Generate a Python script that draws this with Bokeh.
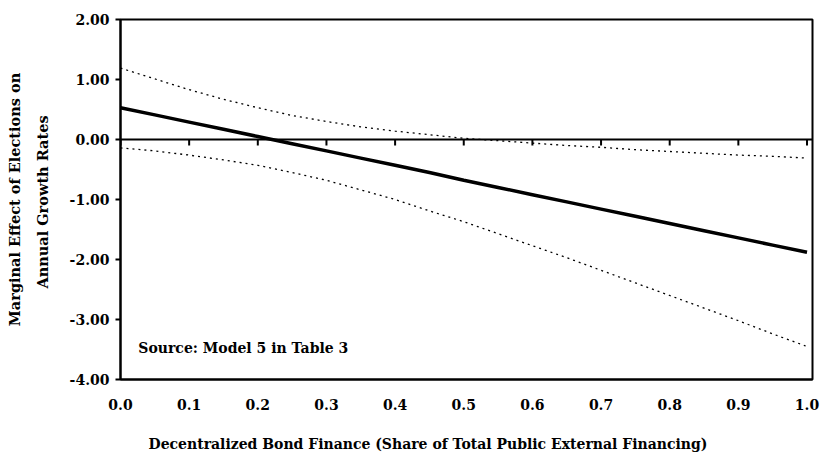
from bokeh.plotting import figure
from bokeh.models import Range1d, FixedTicker, Span, Label, Title, CustomJSTickFormatter
from bokeh.embed import file_html
from bokeh.resources import INLINE

# Data
share = [0.0, 0.05, 0.1, 0.15, 0.2, 0.25, 0.3, 0.35, 0.4, 0.45, 0.5,
         0.55, 0.6, 0.65, 0.7, 0.75, 0.8, 0.85, 0.9, 0.95, 1.0]
effect = [0.53, 0.41, 0.29, 0.17, 0.05, -0.07, -0.19, -0.31, -0.43, -0.55, -0.68,
          -0.80, -0.92, -1.04, -1.16, -1.28, -1.40, -1.52, -1.64, -1.76, -1.88]
upper = [1.19, 1.01, 0.83, 0.67, 0.53, 0.40, 0.30, 0.21, 0.14, 0.08, 0.02,
         -0.02, -0.06, -0.10, -0.13, -0.17, -0.20, -0.23, -0.26, -0.28, -0.31]
lower = [-0.14, -0.19, -0.26, -0.34, -0.43, -0.55, -0.68, -0.84, -1.00, -1.19, -1.37,
         -1.57, -1.77, -1.97, -2.18, -2.39, -2.60, -2.81, -3.02, -3.24, -3.45]

x_ticks = [0.0, 0.1, 0.2, 0.3, 0.4, 0.5, 0.6, 0.7, 0.8, 0.9, 1.0]
y_ticks = [-4.0, -3.0, -2.0, -1.0, 0.0, 1.0, 2.0]

x_title = "Decentralized Bond Finance (Share of Total Public External Financing)"
y_title_1 = "Marginal Effect of Elections on"
y_title_2 = "Annual  Growth Rates"
source_note = "Source:  Model 5 in Table 3"

FONT = "DejaVu Serif"

p = figure(output_backend="svg", toolbar_location=None,
           x_range=Range1d(0, 1.008), y_range=Range1d(-4.0, 2.0),
           min_border_left=120, min_border_right=8, min_border_top=19, min_border_bottom=81)
p.frame_width = 692
p.frame_height = 360
p.grid.visible = False
p.outline_line_color = "black"
p.outline_line_width = 2
p.background_fill_color = "white"
p.border_fill_color = "white"

# x axis
xa = p.xaxis[0]
xa.ticker = FixedTicker(ticks=x_ticks)
xa.formatter = CustomJSTickFormatter(code="return tick.toFixed(1);")
xa.major_tick_out = 0
xa.major_tick_in = 0
xa.minor_tick_out = 0
xa.minor_tick_in = 0
xa.axis_line_width = 2
xa.axis_line_color = "black"
xa.major_label_standoff = 19
xa.major_label_text_font = FONT
xa.major_label_text_font_style = "bold"
xa.major_label_text_font_size = "14px"
xa.major_label_text_color = "black"

# y axis
ya = p.yaxis[0]
ya.ticker = FixedTicker(ticks=y_ticks)
ya.formatter = CustomJSTickFormatter(code="return tick.toFixed(2);")
ya.major_tick_out = 5
ya.major_tick_in = 0
ya.major_tick_line_width = 2
ya.minor_tick_out = 0
ya.minor_tick_in = 0
ya.axis_line_width = 2
ya.axis_line_color = "black"
ya.major_label_standoff = 6
ya.major_label_text_font = FONT
ya.major_label_text_font_style = "bold"
ya.major_label_text_font_size = "14px"
ya.major_label_text_color = "black"

# zero line
p.add_layout(Span(location=0, dimension="width", line_color="black", line_width=2))

# tick marks on zero line
p.segment(x0=x_ticks, y0=[0.0] * len(x_ticks), x1=x_ticks, y1=[-0.1] * len(x_ticks),
          line_color="black", line_width=2)

# curves
p.line(share, upper, line_color="black", line_width=1.3, line_dash="2 4")
p.line(share, lower, line_color="black", line_width=1.3, line_dash="2 4")
p.line(share, effect, line_color="black", line_width=3.5)

p.add_layout(Label(x=0.026, y=-3.47, text=source_note,
                   text_font=FONT, text_font_style="bold", text_font_size="14px",
                   text_color="black", text_baseline="middle"))

# axis titles as side titles
p.add_layout(Title(text=x_title, align="left", offset=28, standoff=43,
                   text_font=FONT, text_font_style="bold", text_font_size="14px",
                   text_color="black"), "below")
p.add_layout(Title(text=y_title_2, align="center", standoff=32,
                   text_font=FONT, text_font_style="bold", text_font_size="14.5px",
                   text_color="black"), "left")
p.add_layout(Title(text=y_title_1, align="center", standoff=-14,
                   text_font=FONT, text_font_style="bold", text_font_size="14.5px",
                   text_color="black"), "left")

open("out.html", "w").write(file_html(p, INLINE))
